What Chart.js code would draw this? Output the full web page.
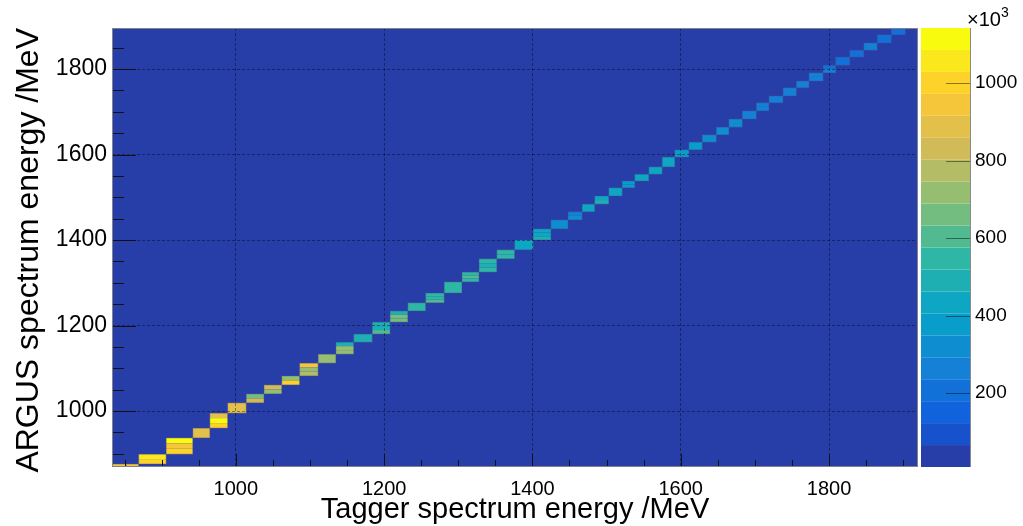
<!DOCTYPE html>
<html>
<head>
<meta charset="utf-8">
<title>ARGUS vs Tagger</title>
<script src="https://cdn.jsdelivr.net/npm/chart.js@4.4.1/dist/chart.umd.min.js"></script>
<style>
  body { margin: 0; background: #fff; }
</style>
</head>
<body>
<canvas id="argusTaggerChart" width="1023" height="526"></canvas>
<script>
// tagger channel edges (MeV), one column per channel
const taggerEdges = [833, 852, 869, 906, 942, 965, 989, 1014, 1038, 1062,
  1086, 1111, 1135, 1159, 1184, 1208, 1232, 1256, 1281, 1305,
  1328, 1352, 1376, 1401, 1425, 1448, 1467, 1484, 1503, 1521,
  1538, 1557, 1575, 1592, 1611, 1629, 1648, 1665, 1683, 1702,
  1719, 1738, 1756, 1773, 1792, 1809, 1828, 1847, 1865, 1884, 1903];

// ARGUS energy range filled for each tagger channel (MeV)
const argusLow = [860, 860, 876, 899, 937, 960, 995, 1019, 1040, 1061,
  1082, 1112, 1133, 1161, 1180, 1208, 1234, 1253, 1276, 1302,
  1325, 1356, 1377, 1400, 1426, 1447, 1466, 1484, 1503, 1522,
  1538, 1554, 1571, 1594, 1611, 1629, 1646, 1664, 1683, 1702,
  1721, 1737, 1756, 1772, 1791, 1809, 1828, 1844, 1861, 1880];
const argusHigh = [876, 876, 899, 937, 960, 995, 1019, 1040, 1061, 1082,
  1112, 1133, 1161, 1180, 1208, 1234, 1253, 1276, 1302, 1325,
  1356, 1377, 1400, 1426, 1447, 1466, 1484, 1503, 1522, 1538,
  1554, 1571, 1594, 1611, 1629, 1646, 1664, 1683, 1702, 1721,
  1737, 1756, 1772, 1791, 1809, 1828, 1844, 1861, 1880, 1894];

// counts (x10^3), stripes listed top to bottom inside each channel
const counts = [
  [960], [960], [1040, 1000], [1110, 960, 990], [890],
  [900, 1110, 1000], [890], [660, 830], [830, 700], [700, 990],
  [930, 715, 800], [720], [490, 720, 720], [490], [470, 480, 600],
  [490, 660, 640], [545], [520, 520, 620], [550], [530, 600, 530],
  [520, 480, 520], [550, 560], [440], [440, 440, 480], [310],
  [270, 330], [420], [450, 500], [420], [380, 370],
  [410], [420], [420], [390], [370],
  [340], [320], [300], [280], [270, 280],
  [270], [260], [260], [255, 250], [230, 240],
  [230], [225], [240], [220], [215]
];

const axisTicks = [1000, 1200, 1400, 1600, 1800];
const paletteTicks = [200, 400, 600, 800, 1000];
const xRange = [833, 1920];
const yRange = [869, 1896];
const zRange = [9, 1142];
const nContours = 20;
const minorStep = 50;

// ROOT kBird palette
const birdStops = [0, 0.125, 0.25, 0.375, 0.5, 0.625, 0.75, 0.875, 1];
const birdR = [0.2082, 0.0592, 0.0780, 0.0232, 0.1802, 0.5301, 0.8186, 0.9956, 0.9764];
const birdG = [0.1664, 0.3599, 0.5041, 0.6419, 0.7178, 0.7492, 0.7328, 0.7862, 0.9832];
const birdB = [0.5293, 0.8684, 0.8385, 0.7914, 0.6425, 0.4662, 0.3499, 0.1968, 0.0539];

function bandColour(k) {
  const idx = Math.floor((k + 0.99) * 255 / nContours);
  const f = Math.min(idx / 254, 1);
  let s = 0;
  while (s < birdStops.length - 2 && f > birdStops[s + 1]) s++;
  const t = (f - birdStops[s]) / (birdStops[s + 1] - birdStops[s]);
  const c = arr => Math.round(255 * (arr[s] + (arr[s + 1] - arr[s]) * t));
  return `rgb(${c(birdR)},${c(birdG)},${c(birdB)})`;
}

function colourFor(v) {
  const step = (zRange[1] - zRange[0]) / nContours;
  let k = Math.floor((v - zRange[0]) / step);
  k = Math.max(0, Math.min(nContours - 1, k));
  return bandColour(k);
}

const fontFamily = '"Liberation Sans", Arial, Helvetica, sans-serif';

// keep the plot frame where it is: no extra room for edge labels
const noEdgePadding = s => { s.paddingTop = 0; s.paddingBottom = 0; };

const heatmapPlugin = {
  id: 'heatmap',
  beforeDraw(chart) {
    const { ctx, chartArea: a } = chart;
    ctx.save();
    ctx.fillStyle = bandColour(0);
    ctx.fillRect(a.left, a.top, a.right - a.left, a.bottom - a.top);
    ctx.restore();
  },
  beforeDatasetsDraw(chart) {
    const { ctx, chartArea: a, scales: { x, y } } = chart;
    ctx.save();
    ctx.beginPath();
    ctx.rect(a.left, a.top, a.right - a.left, a.bottom - a.top);
    ctx.clip();
    counts.forEach((stripes, i) => {
      const x0 = x.getPixelForValue(taggerEdges[i]);
      const x1 = x.getPixelForValue(taggerEdges[i + 1]);
      const dy = (argusHigh[i] - argusLow[i]) / stripes.length;
      stripes.forEach((v, j) => {
        const yTop = y.getPixelForValue(argusHigh[i] - j * dy);
        const yBot = y.getPixelForValue(argusHigh[i] - (j + 1) * dy);
        ctx.fillStyle = colourFor(v);
        ctx.fillRect(x0, yTop, x1 - x0, yBot - yTop);
      });
      const top = y.getPixelForValue(argusHigh[i]);
      const bot = y.getPixelForValue(argusLow[i]);
      ctx.strokeStyle = 'rgba(70,80,140,0.45)';
      ctx.lineWidth = 1;
      ctx.strokeRect(x0, top, x1 - x0, bot - top);
    });
    ctx.restore();
  },
  afterDraw(chart) {
    const { ctx, chartArea: a, scales: { x, y, z } } = chart;
    ctx.save();
    // axis tick marks, drawn inside the frame like ROOT
    ctx.strokeStyle = '#111';
    ctx.lineWidth = 1;
    ctx.beginPath();
    for (let v = Math.ceil(xRange[0] / minorStep) * minorStep; v <= xRange[1]; v += minorStep) {
      const px = Math.round(x.getPixelForValue(v)) + 0.5;
      const len = v % 200 === 0 ? 13 : 7;
      ctx.moveTo(px, a.bottom);
      ctx.lineTo(px, a.bottom - len);
    }
    for (let v = Math.ceil(yRange[0] / minorStep) * minorStep; v <= yRange[1]; v += minorStep) {
      const py = Math.round(y.getPixelForValue(v)) + 0.5;
      const len = v % 200 === 0 ? 24 : 12;
      ctx.moveTo(a.left, py);
      ctx.lineTo(a.left + len, py);
    }
    ctx.stroke();

    // frame
    ctx.strokeStyle = '#80828c';
    ctx.strokeRect(a.left + 0.5, a.top + 0.5, a.right - a.left - 1, a.bottom - a.top - 1);

    // palette
    const pl = 921, pr = 970;
    const step = (zRange[1] - zRange[0]) / nContours;
    for (let k = 0; k < nContours; k++) {
      const y0 = z.getPixelForValue(zRange[0] + (k + 1) * step);
      const y1 = z.getPixelForValue(zRange[0] + k * step);
      ctx.fillStyle = bandColour(k);
      ctx.fillRect(pl, y0, pr - pl, y1 - y0);
    }
    ctx.strokeStyle = 'rgba(0,0,0,0.45)';
    ctx.beginPath();
    paletteTicks.forEach(t => {
      const py = Math.round(z.getPixelForValue(t)) + 0.5;
      ctx.moveTo(pr - 24, py);
      ctx.lineTo(pr, py);
    });
    ctx.stroke();
    ctx.strokeStyle = '#8a8a8a';
    ctx.beginPath();
    ctx.moveTo(pr + 0.5, a.top);
    ctx.lineTo(pr + 0.5, a.bottom);
    ctx.stroke();

    // exponent label
    ctx.fillStyle = '#000';
    ctx.textBaseline = 'alphabetic';
    ctx.textAlign = 'left';
    ctx.font = '20px ' + fontFamily;
    ctx.fillText('×10', 967, 26);
    const w = ctx.measureText('×10').width;
    ctx.font = '14px ' + fontFamily;
    ctx.fillText('3', 967 + w, 17);
    ctx.restore();
  }
};

const plainNumber = v => String(v);

const ctx = document.getElementById('argusTaggerChart').getContext('2d');
new Chart(ctx, {
  type: 'scatter',
  data: {
    datasets: [{
      label: 'ARGUS vs Tagger',
      data: counts.map((s, i) => ({
        x: (taggerEdges[i] + taggerEdges[i + 1]) / 2,
        y: (argusLow[i] + argusHigh[i]) / 2
      })),
      pointRadius: 0,
      pointHoverRadius: 0
    }]
  },
  options: {
    responsive: false,
    devicePixelRatio: 1,
    animation: false,
    layout: { padding: { top: 28, right: 0, bottom: 0, left: 0 } },
    plugins: {
      legend: { display: false },
      tooltip: { enabled: false }
    },
    scales: {
      x: {
        type: 'linear',
        min: xRange[0],
        max: xRange[1],
        afterBuildTicks: s => { s.ticks = axisTicks.map(v => ({ value: v })); },
        afterFit: s => { s.height = 59; },
        ticks: {
          color: '#000',
          font: { family: fontFamily, size: 20 },
          padding: 10,
          maxRotation: 0,
          autoSkip: false,
          callback: plainNumber
        },
        grid: { color: 'rgba(0,0,0,0.4)', drawTicks: false, z: 1 },
        border: { display: false, dash: [3, 2] },
        title: {
          display: true,
          text: 'Tagger spectrum energy /MeV',
          color: '#000',
          font: { family: fontFamily, size: 29, lineHeight: 1 },
          padding: { top: 0, bottom: 2 }
        }
      },
      y: {
        type: 'linear',
        position: 'left',
        min: yRange[0],
        max: yRange[1],
        afterBuildTicks: s => { s.ticks = axisTicks.map(v => ({ value: v })); },
        afterFit: s => { s.width = 112; noEdgePadding(s); },
        ticks: {
          color: '#000',
          font: { family: fontFamily, size: 23 },
          padding: 5,
          callback: plainNumber
        },
        grid: { color: 'rgba(0,0,0,0.4)', drawTicks: false, z: 1 },
        border: { display: false, dash: [3, 2] },
        title: {
          display: true,
          text: 'ARGUS spectrum energy /MeV',
          align: 'end',
          color: '#000',
          font: { family: fontFamily, size: 32, lineHeight: 1 },
          padding: { top: 13, bottom: 0 }
        }
      },
      z: {
        type: 'linear',
        position: 'right',
        min: zRange[0],
        max: zRange[1],
        afterBuildTicks: s => { s.ticks = paletteTicks.map(v => ({ value: v })); },
        afterFit: s => { s.width = 105; noEdgePadding(s); },
        ticks: {
          color: '#000',
          font: { family: fontFamily, size: 19 },
          padding: 57,
          callback: plainNumber
        },
        grid: { display: false, drawTicks: false, drawOnChartArea: false },
        border: { display: false }
      }
    }
  },
  plugins: [heatmapPlugin]
});
</script>
</body>
</html>
